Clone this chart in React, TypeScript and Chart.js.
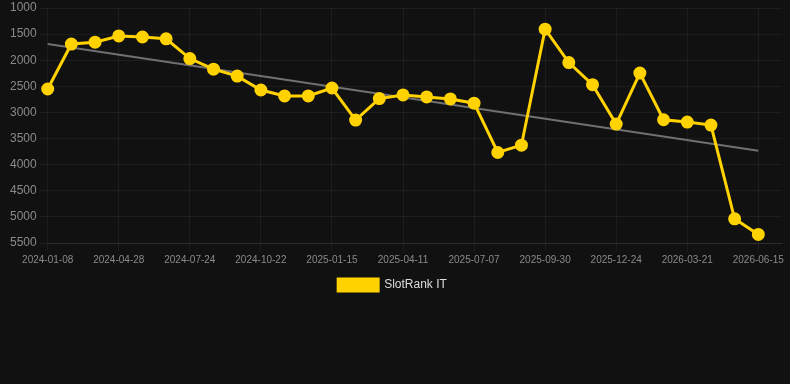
import React, { useEffect, useRef } from "react";
import { Chart, registerables } from "chart.js";

Chart.register(...registerables);

const dateLabels = [
  "2024-01-08", "2024-02-14", "2024-03-22", "2024-04-28", "2024-05-27", "2024-06-25",
  "2024-07-24", "2024-08-23", "2024-09-22", "2024-10-22", "2024-11-19", "2024-12-17",
  "2025-01-15", "2025-02-13", "2025-03-14", "2025-04-11", "2025-05-10", "2025-06-08",
  "2025-07-07", "2025-08-04", "2025-09-01", "2025-09-30", "2025-10-28", "2025-11-25",
  "2025-12-24", "2026-01-22", "2026-02-20", "2026-03-21", "2026-04-18", "2026-05-17",
  "2026-06-15", "2026-07-14",
];

const slotRankValues = [
  2551, 1690, 1655, 1535, 1555, 1590, 1968, 2171, 2304, 2570, 2684, 2684,
  2532, 3146, 2734, 2665, 2703, 2741, 2823, 3767, 3627, 1405, 2045, 2469,
  3222, 2247, 3140, 3184, 3241, 5038, 5336, null,
];

const trendStart = 1690;
const trendEnd = 3734;
const trendEndIndex = 30;

const yTickValues = [1000, 1500, 2000, 2500, 3000, 3500, 4000, 4500, 5000, 5500];

const legendShift = {
  id: "legendShift",
  afterLayout(chart: any) {
    if (chart.legend) {
      chart.legend.left -= 6;
      chart.legend.right -= 6;
    }
  },
};

export default function App() {
  const canvasRef = useRef<HTMLCanvasElement | null>(null);

  useEffect(() => {
    document.body.style.margin = "0";
    document.body.style.background = "#111111";
    const canvas = canvasRef.current;
    if (!canvas) return;
    const trendData = dateLabels.map((_, i) =>
      i === 0 ? trendStart : i === trendEndIndex ? trendEnd : null
    );
    const chart = new Chart(canvas, {
      type: "line",
      plugins: [legendShift],
      data: {
        labels: dateLabels,
        datasets: [
          {
            label: "SlotRank IT",
            data: slotRankValues,
            borderColor: "#FFD200",
            backgroundColor: "#FFD200",
            borderWidth: 3,
            pointRadius: 5,
            pointHoverRadius: 5,
            pointBackgroundColor: "#FFD200",
            pointBorderColor: "#FFD200",
            tension: 0,
            order: 1,
          },
          {
            label: "Trend",
            data: trendData,
            borderColor: "#707070",
            backgroundColor: "#707070",
            borderWidth: 2,
            pointRadius: 0,
            spanGaps: true,
            order: 2,
          },
        ],
      },
      options: {
        animation: false,
        responsive: false,
        maintainAspectRatio: false,
        layout: { padding: { left: 7, right: 0, top: 0, bottom: 83 } },
        plugins: {
          legend: {
            position: "bottom",
            labels: {
              color: "#dddddd",
              font: { family: "Liberation Sans, Arial, sans-serif", size: 12 },
              boxWidth: 40,
              boxHeight: 12,
              filter: (item) => item.text !== "Trend",
            },
          },
          tooltip: { enabled: false },
        },
        scales: {
          x: {
            type: "category",
            offset: false,
            grid: { color: "rgba(255,255,255,0.05)", tickLength: 8 },
            border: { color: "rgba(255,255,255,0.08)" },
            ticks: {
              autoSkip: false,
              maxRotation: 0,
              color: "#8a8a8a",
              font: { family: "Liberation Sans, Arial, sans-serif", size: 10 },
              callback: (_v, i) => (i % 3 === 0 && i <= 30 ? dateLabels[i] : null),
            },
          },
          y: {
            reverse: true,
            min: 1000,
            max: 5500,
            afterBuildTicks: (axis) => {
              axis.ticks = yTickValues.map((v) => ({ value: v }));
            },
            grid: { color: "rgba(255,255,255,0.05)", tickLength: 8 },
            border: { display: false },
            ticks: {
              color: "#8a8a8a",
              font: { family: "Liberation Sans, Arial, sans-serif", size: 12, lineHeight: 0.7 },
              callback: (v) => String(v),
            },
          },
        },
      },
    });
    return () => chart.destroy();
  }, []);

  return (
    <div style={{ width: 790, height: 384, background: "#111111" }}>
      <canvas ref={canvasRef} width={790} height={384} style={{ display: "block" }} />
    </div>
  );
}
